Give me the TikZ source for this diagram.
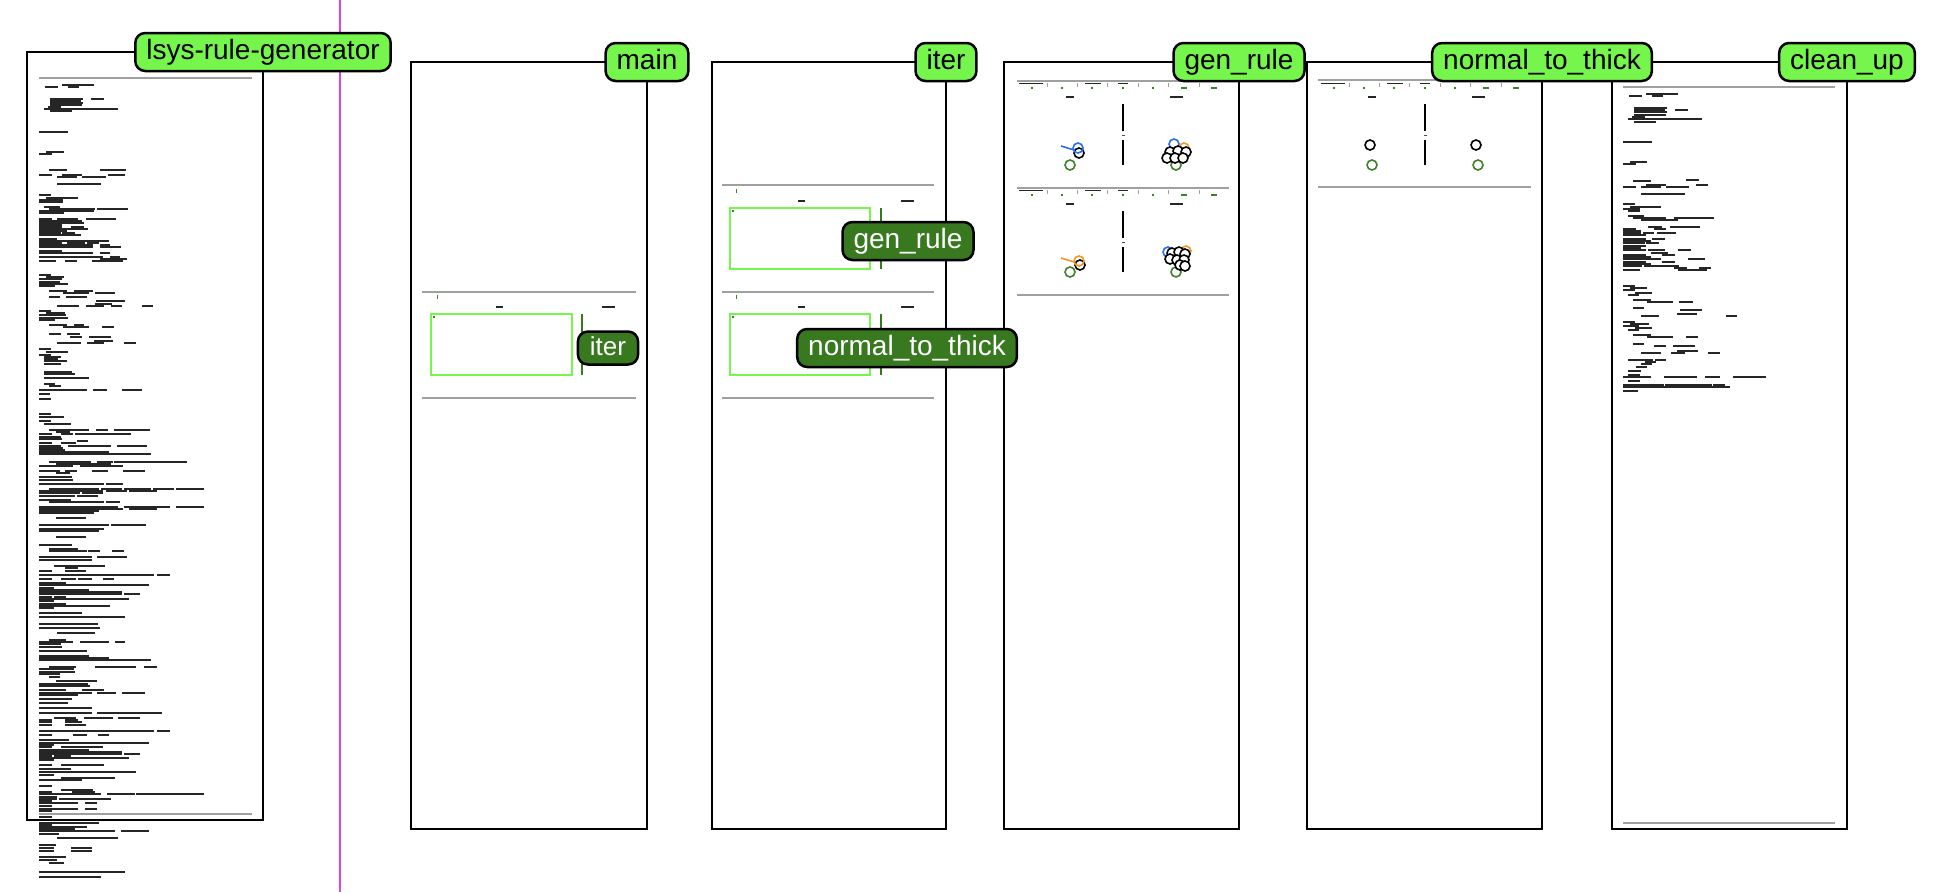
\documentclass[tikz,border=0pt]{standalone}
\usepackage{fontspec}
\setmainfont{Liberation Sans}

\definecolor{tagGreen}{RGB}{118,246,76}
\definecolor{tagDark}{RGB}{56,120,30}
\definecolor{rulePink}{RGB}{228,64,228}
\definecolor{sepGray}{RGB}{160,160,160}
\definecolor{dotGreen}{RGB}{60,130,40}
\definecolor{dotBlue}{RGB}{40,110,240}
\definecolor{dotOrange}{RGB}{245,150,40}

\tikzset{
  frame/.style={draw=black, line width=1.5pt},
  tag/.style={draw=black, line width=2.5pt, fill=tagGreen, rounded corners=10pt,
    font=\fontsize{28}{28}\selectfont, inner xsep=11pt, inner ysep=6pt,
    minimum height=38pt, text height=20pt, text depth=6pt},
  darktag/.style={tag, fill=tagDark, text=white},
  sep/.style={draw=sepGray, line width=1.6pt},
  code/.style={draw=black!85, line width=1.6pt},
  box/.style={draw=tagGreen, line width=1.4pt},
  stem/.style={draw=tagDark, line width=1.5pt},
  tick/.style={draw=sepGray, line width=1pt},
  ring/.style={line width=1.6pt},
}

\begin{document}
\begin{tikzpicture}[x=1pt,y=-1pt]
    \useasboundingbox (0,0) rectangle (1944,892);
    \draw[rulePink, line width=2pt] (340,0) -- (340,892);
    % frames
    \draw[frame] (27,52) rectangle (263,820);
    \draw[frame] (411,62) rectangle (647,829);
    \draw[frame] (712,62) rectangle (946,829);
    \draw[frame] (1004,62) rectangle (1239,829);
    \draw[frame] (1307,62) rectangle (1542,829);
    \draw[frame] (1612,62) rectangle (1847,829);
    % lsys-rule-generator source
    \draw[sep] (39,78) -- (252,78);
    \draw[sep] (39,814) -- (252,814);
    \foreach \y/\a/\b in {85/62/94, 87/45/58, 87/68/79,
      99/50/83, 99/91/104, 101/50/81, 103/50/83, 105/50/82, 107/48/61, 109/44/118, 111/50/72,
      132/39/68, 152/46/64, 154/39/52,
      170/49/67, 170/100/126, 175/39/52, 175/62/82, 175/108/125, 177/57/77, 177/82/106, 184/57/101,
      195/39/51, 198/46/78, 200/39/63, 202/39/63,
      207/44/60, 209/49/95, 209/97/128, 211/39/94, 213/39/64,
      219/39/52, 219/57/78, 219/86/116, 221/39/82, 223/39/84, 225/39/62, 227/39/62, 227/71/84,
      229/39/88, 231/39/67, 233/39/61, 233/62/75, 235/39/81,
      239/39/57, 241/39/109, 243/39/62, 243/67/85, 243/87/99, 245/39/93, 245/100/110,
      247/39/93, 247/100/121, 251/39/62, 253/39/93, 253/100/110, 257/39/103, 257/110/120,
      259/100/127, 261/39/56, 261/65/77, 261/92/123,
      275/39/51, 277/46/64, 279/39/62, 282/39/60, 284/39/68, 286/39/55,
      291/49/67, 291/74/93, 293/63/89, 293/95/115, 297/49/60, 297/66/87, 301/96/125, 304/95/112,
      306/57/79, 306/86/104, 306/111/122, 306/142/153,
      311/39/51, 313/46/65, 315/39/66, 318/39/68, 320/39/55,
      325/49/67, 325/74/84, 327/63/89, 327/102/114,
      334/49/61, 334/67/80, 337/70/82, 337/89/111, 341/94/113, 343/57/81, 343/87/104, 343/124/136,
      349/39/51, 352/46/68, 355/39/51, 357/44/61, 359/44/58, 361/44/67, 364/44/61,
      372/44/72, 374/44/75, 378/44/89, 384/44/55, 386/49/61,
      390/39/87, 390/93/107, 390/122/142, 394/39/50, 399/39/51,
      414/39/51, 417/39/64, 421/39/51, 424/44/71,
      430/49/89, 430/96/108, 430/114/150, 432/56/70, 434/39/52, 434/61/73, 434/75/131,
      437/39/61, 439/39/62, 441/77/88, 443/39/52, 443/61/76, 446/39/61, 446/68/111, 446/117/147,
      448/39/63, 450/39/65, 452/39/109, 454/39/151,
      462/49/91, 462/97/113, 462/114/187, 464/56/111, 466/39/73, 466/80/123,
      471/39/60, 471/65/77, 471/92/108, 471/123/145, 473/56/70,
      477/39/72, 480/39/73, 484/39/104, 484/106/123,
      489/49/99, 489/101/122, 489/124/151, 489/153/174, 489/176/204,
      491/39/103, 491/106/127, 491/129/157, 493/39/80, 493/82/103, 496/39/75, 496/77/98,
      500/39/71, 502/49/104, 502/106/120,
      507/39/118, 507/124/170, 507/176/204, 509/39/123, 509/129/157, 511/39/99, 513/39/94, 518/56/86,
      525/39/109, 525/111/146, 529/39/104, 531/39/99, 537/56/86,
      545/39/72, 549/49/78, 551/49/87, 551/88/100, 551/112/124,
      557/39/92, 557/97/127, 560/39/92, 566/54/105, 568/65/78, 571/39/52, 571/65/86,
      575/39/154, 575/157/170, 579/39/52, 579/61/76, 579/78/92, 579/103/114,
      583/39/66, 585/39/149, 588/39/54, 590/39/89, 592/39/122, 594/39/122, 594/124/140,
      597/39/52, 597/54/66, 599/39/129, 601/39/54, 604/39/66, 606/39/110, 608/39/54,
      613/39/82, 617/39/125, 624/39/98, 628/39/100, 633/57/95,
      640/49/66, 642/39/73, 642/80/109, 642/115/125, 644/39/61, 647/39/62, 651/39/87,
      656/39/89, 658/39/109, 660/39/151,
      667/49/76, 667/95/136, 667/144/157, 669/39/74, 672/39/75, 674/39/60, 677/49/60,
      681/56/97, 684/39/88, 686/39/90,
      690/39/66, 690/82/104, 693/39/92, 693/97/116, 693/122/145, 695/39/78,
      699/39/72, 703/39/68, 708/39/92, 713/39/92, 713/97/162,
      718/54/76, 718/84/113, 718/118/140, 720/39/52, 720/65/78, 722/39/52, 722/65/82, 725/39/52, 725/65/86,
      731/39/154, 731/157/170, 735/39/52, 735/73/87, 735/98/109,
      740/39/69, 743/39/149, 745/39/54, 747/39/52, 747/61/103, 750/39/89, 752/39/122, 754/39/122, 754/124/140,
      756/39/52, 756/54/71, 758/39/129, 760/39/54,
      765/39/52, 765/61/104, 769/39/71, 772/39/136, 775/39/54, 778/61/115, 780/39/82,
      786/39/52, 790/61/93, 792/39/52, 792/72/95, 794/39/101, 794/107/135, 794/136/204,
      797/39/57, 799/39/57, 799/59/111, 801/39/52, 803/39/78, 803/85/97, 806/39/52, 809/39/78, 809/85/97,
      811/39/52, 817/39/52, 823/39/99,
      825/39/52, 827/39/87, 829/39/75, 831/39/115, 831/121/149, 834/39/59, 838/57/118,
      845/39/56, 848/39/54, 848/71/92, 851/39/54, 851/71/92, 857/39/66, 860/39/57, 863/49/64,
      872/39/125, 877/39/101}
      \draw[code] (\a,\y) -- (\b,\y);
    % main
    \draw[sep] (422,292) -- (636,292);
    \draw[sep] (422,398) -- (636,398);
    \draw[code] (496,307) -- (503,307);
    \draw[code] (602,307) -- (615,307);
    \fill[dotGreen] (436.5,295) rectangle (438,298.5);
    \draw[box] (431,314) rectangle (572,375);
    \fill[dotGreen] (433,316) rectangle (435,318);
    \draw[stem] (582,314) -- (582,375);
    % iter
    \foreach \y in {185,292,398}
      \draw[sep] (722,\y) -- (934,\y);
    \foreach \y in {0,106} {
      \draw[code] (798,201+\y) -- (805,201+\y);
      \draw[code] (901,201+\y) -- (914,201+\y);
      \fill[dotGreen] (735.5,189+\y) rectangle (737,192.5+\y);
      \draw[box] (730,208+\y) rectangle (870,269+\y);
      \fill[dotGreen] (732,210+\y) rectangle (734,212+\y);
      \draw[stem] (881,208+\y) -- (881,269+\y);
    }
    % gen_rule and normal_to_thick
    \foreach \y in {81,188,295}
      \draw[sep] (1017,\y) -- (1229,\y);
    \foreach \y in {80,187}
      \draw[sep] (1318,\y) -- (1531,\y);
    \foreach \dx/\y in {0/0, 0/107, 302/0} {
      \begin{scope}[xshift=\dx pt, yshift=-\y pt]
        \draw[code] (1019,83.5) -- (1043,83.5);
        \draw[code] (1085,83.5) -- (1101,83.5);
        \draw[code] (1118,83.5) -- (1128,83.5);
        \foreach \x in {1047,1077,1107,1138,1168,1199}
          \draw[tick] (\x,83) -- (\x,87);
        \foreach \x in {1032,1062,1092,1123,1153}
          \fill[dotGreen] (\x-0.7,87) rectangle (\x+0.7,89);
        \draw[dotGreen, line width=1.4pt] (1181,88) -- (1187,88);
        \draw[dotGreen, line width=1.4pt] (1211,88) -- (1217,88);
        \draw[code] (1066,97) -- (1074,97);
        \draw[code] (1170,97) -- (1183,97);
        \draw[black, line width=1.4pt] (1123,104) -- (1123,131);
        \draw[black, line width=1.4pt] (1123,140) -- (1123,165);
        \fill[black!70] (1122,134.5) rectangle (1124.5,135.5);
      \end{scope}
    }
    % gen_rule dots
    \draw[ring, dotGreen] (1070,165) circle (5);
    \draw[ring, fill=white] (1079,153) circle (5);
    \draw[ring, dotBlue] (1061,146) -- (1074,150);
    \draw[ring, dotBlue] (1078,148) circle (5);
    \draw[ring, dotBlue] (1174,144) circle (5);
    \draw[ring, dotOrange] (1184,148) circle (5);
    \draw[ring, dotGreen] (1176,165) circle (5);
    \foreach \x/\y in {1170/152, 1178/151, 1186/152, 1167/158, 1175/158, 1183/158}
      \draw[ring, fill=white] (\x,\y) circle (5);
    \draw[ring, dotGreen] (1070,272) circle (5);
    \draw[ring, fill=white] (1080,265) circle (5);
    \draw[ring, dotOrange] (1061,258) -- (1074,262);
    \draw[ring, dotOrange] (1079,261) circle (5);
    \draw[ring, dotBlue] (1168,252) circle (5);
    \draw[ring, dotOrange] (1186,251) circle (5);
    \draw[ring, dotGreen] (1176,272) circle (5);
    \foreach \x/\y in {1172/253, 1179/252, 1185/254, 1170/259, 1177/260, 1184/260, 1180/265, 1185/266}
      \draw[ring, fill=white] (\x,\y) circle (5);
    % normal_to_thick dots
    \draw[ring] (1370,145) circle (5);
    \draw[ring] (1476,145) circle (5);
    \draw[ring, dotGreen] (1372,165) circle (5);
    \draw[ring, dotGreen] (1478,165) circle (5);
    % clean_up source
    \draw[sep] (1623,87) -- (1835,87);
    \draw[sep] (1623,823) -- (1835,823);
    \foreach \y/\a/\b in {94/1646/1678, 96/1629/1642, 96/1652/1663,
      108/1634/1667, 110/1634/1665, 110/1675/1688, 112/1634/1667, 115/1634/1666, 117/1632/1645,
      119/1628/1702, 122/1634/1656,
      142/1623/1652, 162/1630/1647, 164/1623/1636,
      180/1686/1699, 181/1633/1651, 185/1646/1666, 185/1696/1708, 187/1623/1636, 187/1641/1661,
      187/1666/1689, 194/1641/1685,
      204/1623/1635, 207/1630/1661, 209/1623/1640, 211/1628/1640,
      216/1628/1644, 218/1633/1666, 218/1674/1714, 220/1641/1678,
      227/1648/1662, 227/1670/1700, 229/1623/1636, 229/1654/1666, 231/1623/1641, 233/1623/1641,
      233/1643/1654, 233/1657/1676, 235/1623/1646,
      239/1623/1646, 239/1652/1665, 241/1623/1651, 243/1623/1645, 243/1646/1659, 246/1623/1646, 248/1623/1641,
      250/1623/1646, 250/1648/1665, 250/1678/1691, 253/1651/1668, 255/1623/1646, 255/1662/1675,
      257/1623/1651, 259/1623/1661, 259/1688/1705, 262/1623/1646, 262/1662/1675, 264/1623/1651,
      266/1623/1642, 266/1644/1679, 268/1674/1687, 268/1699/1711, 270/1623/1640, 270/1678/1707,
      286/1623/1635, 288/1630/1647, 290/1623/1635, 293/1635/1652, 295/1628/1639,
      300/1633/1651, 302/1647/1673, 302/1679/1693, 308/1633/1644, 310/1680/1702, 314/1677/1697,
      316/1641/1659, 316/1726/1737,
      322/1623/1635, 324/1630/1649, 326/1623/1639, 328/1635/1652, 330/1628/1639,
      335/1633/1651, 337/1647/1673, 337/1686/1698, 344/1633/1644, 346/1654/1666, 346/1673/1695,
      351/1677/1698, 353/1641/1661, 353/1671/1685, 353/1708/1720,
      360/1628/1653, 360/1655/1666, 362/1645/1656, 364/1641/1652, 367/1636/1647, 371/1628/1641, 375/1628/1640,
      377/1623/1651, 377/1664/1697, 377/1705/1720, 377/1733/1766, 381/1628/1640,
      385/1623/1664, 385/1665/1712, 385/1713/1725, 387/1623/1730, 391/1623/1638}
      \draw[code] (\a,\y) -- (\b,\y);
    % inner tags
    \node[darktag, font=\fontsize{26}{26}\selectfont, minimum height=33pt, inner xsep=12pt,
      text height=19pt, text depth=5pt, inner ysep=4pt] (iterInner) at (608,348) {iter};
    \node[darktag] (genInner) at (908,241) {gen\_rule};
    \node[darktag] (normalInner) at (907,348) {normal\_to\_thick};
    % frame tags
    \node[tag] (lsysTag) at (263,52) {lsys-rule-generator};
    \node[tag] (mainTag) at (647,62) {main};
    \node[tag] (iterTag) at (946,62) {iter};
    \node[tag] (genTag) at (1239,62) {gen\_rule};
    \node[tag] (normalTag) at (1542,62) {normal\_to\_thick};
    \node[tag] (cleanTag) at (1847,62) {clean\_up};
\end{tikzpicture}
\end{document}
